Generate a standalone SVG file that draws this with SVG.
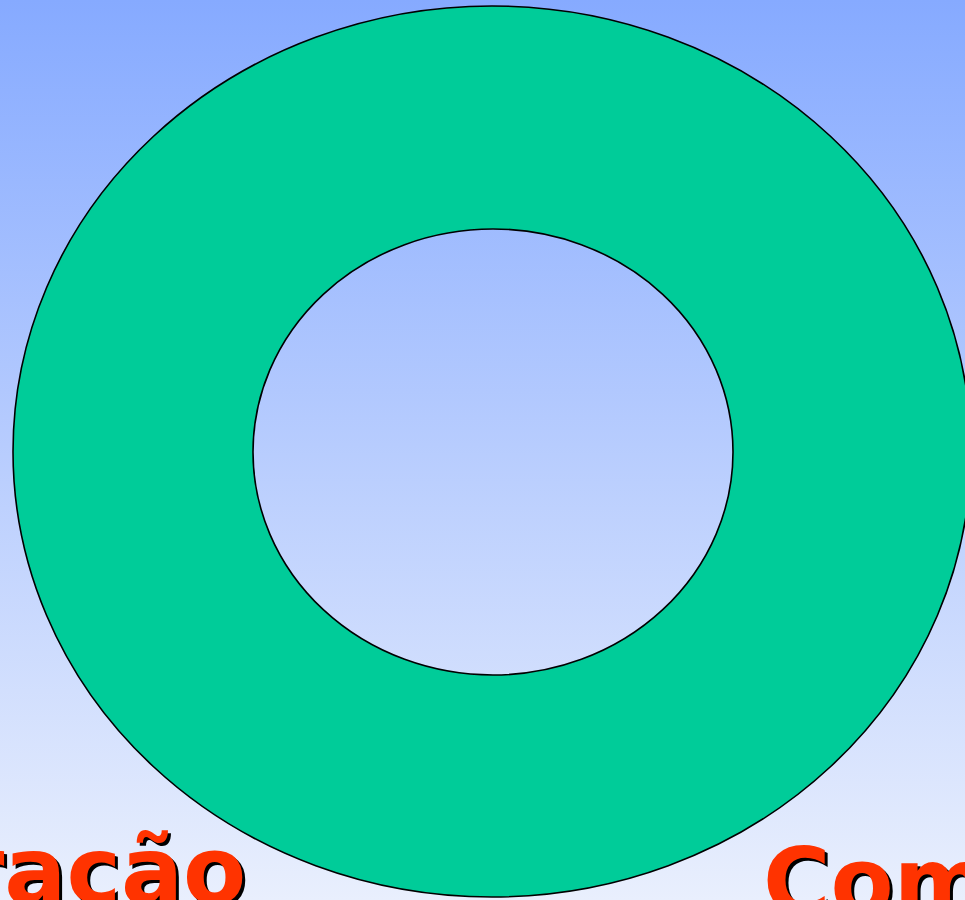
<svg xmlns="http://www.w3.org/2000/svg" width="965" height="900" viewBox="0 0 965 900">
<defs>
<linearGradient id="bg" x1="0" y1="0" x2="0" y2="1">
<stop offset="0" stop-color="#86aaff"/>
<stop offset="1" stop-color="#e9effd"/>
</linearGradient>
<style>
.lbl{font-family:"DejaVu Sans",sans-serif;font-weight:bold;font-size:92px}
.sh{fill:#000}
.fg{fill:#ff3300}
</style>
</defs>
<rect width="965" height="900" fill="url(#bg)"/>
<g id="ring">
<path d="M13,451.5 A479,445.5 0 1,0 971,451.5 A479,445.5 0 1,0 13,451.5 Z M253,452 A240,223 0 1,1 733,452 A240,223 0 1,1 253,452 Z" fill="#00cc99" fill-rule="evenodd" stroke="#000" stroke-width="1.6"/>
</g>
<g id="label-left">
<text class="lbl sh" x="-38" y="906">ração</text>
<text class="lbl fg" x="-41" y="903">ração</text>
</g>
<g id="label-right">
<text class="lbl sh" x="766" y="917">Com</text>
<text class="lbl fg" x="763" y="914">Com</text>
</g>
</svg>
